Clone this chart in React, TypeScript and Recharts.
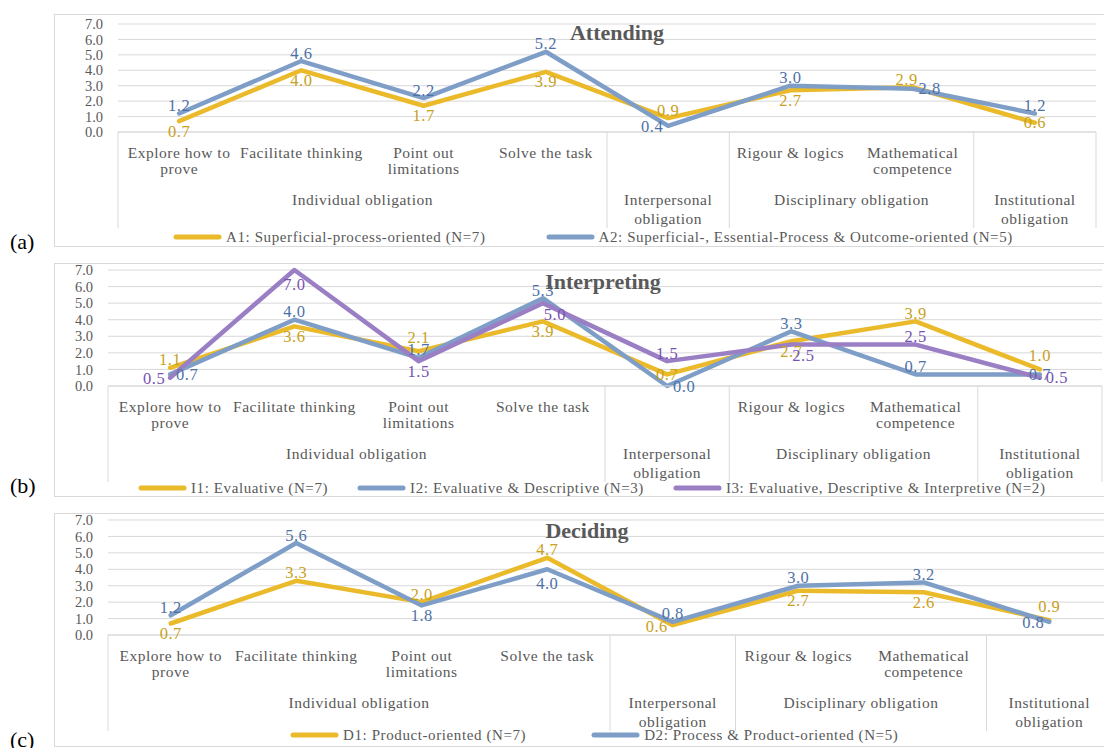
import { LineChart, Line, XAxis, YAxis, CartesianGrid, Legend, LabelList } from 'recharts'

const FONT = '"Liberation Serif", "Times New Roman", serif'
const TEXT = '#595959'
const GRID = '#d9d9d9'
const GOLD = '#ebba2a'
const GOLD_TXT = '#c9a020'
const BLUE = '#7f9ec7'
const BLUE_TXT = '#4d71a7'
const PURPLE = '#9b7fc5'
const PURPLE_TXT = '#7852b2'

// categories (first level) and obligation groups (second level)
const CATEGORIES = ['Explore how to\nprove', 'Facilitate thinking', 'Point out\nlimitations', 'Solve the task', '', 'Rigour & logics', 'Mathematical\ncompetence', '']
const GROUPS = ['Individual obligation', 'Interpersonal\nobligation', 'Disciplinary obligation', 'Institutional\nobligation']
const GROUP_SPANS = [4, 1, 2, 1]
const Y_TICKS = [0, 1, 2, 3, 4, 5, 6, 7]

// (a) Attending
const A1 = [0.7, 4.0, 1.7, 3.9, 0.9, 2.7, 2.9, 0.6]
const A2 = [1.2, 4.6, 2.2, 5.2, 0.4, 3.0, 2.8, 1.2]
// (b) Interpreting
const I1 = [1.1, 3.6, 2.1, 3.9, 0.7, 2.7, 3.9, 1.0]
const I2 = [0.7, 4.0, 1.7, 5.3, 0.0, 3.3, 0.7, 0.7]
const I3 = [0.5, 7.0, 1.5, 5.0, 1.5, 2.5, 2.5, 0.5]
// (c) Deciding
const D1 = [0.7, 3.3, 2.0, 4.7, 0.6, 2.7, 2.6, 0.9]
const D2 = [1.2, 5.6, 1.8, 4.0, 0.8, 3.0, 3.2, 0.8]

// where each data label sits relative to its point (as placed in the original)
const LABEL_OFFSETS: Record<string, [number, number]> = {
  a: [0, -8], A: [0, -14], b: [0, 10], B: [0, 14],
  l: [-16, 1], r: [17, 0], c: [0, 0], al: [-6, -8], br: [12, 11],
}
const POS_A1 = ['b', 'b', 'b', 'b', 'a', 'b', 'al', 'c']
const POS_A2 = ['a', 'a', 'a', 'a', 'l', 'a', 'r', 'a']
const POS_I1 = ['a', 'b', 'A', 'b', 'c', 'b', 'a', 'A']
const POS_I2 = ['r', 'a', 'a', 'a', 'r', 'a', 'a', 'c']
const POS_I3 = ['l', 'B', 'b', 'br', 'a', 'br', 'a', 'r']
const POS_D1 = ['b', 'a', 'a', 'a', 'l', 'b', 'b', 'A']
const POS_D2 = ['a', 'a', 'b', 'B', 'a', 'a', 'a', 'l']

const BOUNDS = GROUP_SPANS.reduce((acc, s) => [...acc, acc[acc.length - 1] + s], [0])
const GROUP_CENTERS = GROUP_SPANS.map((s, i) => BOUNDS[i] + s / 2)
const CAT_CENTERS = CATEGORIES.map((_, i) => i + 0.5)
const X_TICKS = Array.from(new Set([...BOUNDS, ...CAT_CENTERS, ...GROUP_CENTERS])).sort((a, b) => a - b)

const BOX_LEFT = 54
const Y_W = 50
const X_H = 100
const SEP_LEN = 96

const near = (a: number, b: number) => Math.abs(a - b) < 1e-6

function AxisTick(props: any) {
  const { x, y, payload } = props
  const v = payload.value
  const items: any[] = []
  if (BOUNDS.some(b => near(b, v))) {
    items.push(<line key="sep" x1={x} y1={y} x2={x} y2={y + SEP_LEN} stroke={GRID} strokeWidth={1} />)
  }
  const ci = CAT_CENTERS.findIndex(c => near(c, v))
  if (ci >= 0 && CATEGORIES[ci]) {
    CATEGORIES[ci].split('\n').forEach((t, j) => items.push(
      <text key={'c' + j} x={x} y={y + 20 + j * 16.5} textAnchor="middle" dominantBaseline="central"
        fontSize={15.5} letterSpacing={0.5} fontFamily={FONT} fill={TEXT}>{t}</text>
    ))
  }
  const gi = GROUP_CENTERS.findIndex(c => near(c, v))
  if (gi >= 0) {
    GROUPS[gi].split('\n').forEach((t, j) => items.push(
      <text key={'g' + j} x={x} y={y + 67 + j * 19} textAnchor="middle" dominantBaseline="central"
        fontSize={15.5} letterSpacing={0.5} fontFamily={FONT} fill={TEXT}>{t}</text>
    ))
  }
  return <g>{items}</g>
}

const makeLabel = (pos: string[], color: string) => (p: any) => {
  const { x, y, value, index } = p
  const [dx, dy] = LABEL_OFFSETS[pos[index] ?? 'a']
  return (
    <text x={x + dx} y={y + dy} textAnchor="middle" dominantBaseline="central"
      fontSize={16.5} letterSpacing={0.5} fontFamily={FONT} fill={color}>{Number(value).toFixed(1)}</text>
  )
}

function LegendContent({ payload, gap }: any) {
  return (
    <div style={{ display: 'flex', alignItems: 'center', gap, fontFamily: FONT, fontSize: 15, letterSpacing: 0.6, color: TEXT, whiteSpace: 'nowrap', lineHeight: '18px' }}>
      {(payload || []).map((p: any) => (
        <div key={p.value} style={{ display: 'flex', alignItems: 'center' }}>
          <svg width={50} height={8}>
            <line x1={3} y1={4} x2={46} y2={4} stroke={p.color} strokeWidth={5} strokeLinecap="round" />
          </svg>
          <span style={{ marginLeft: 3 }}>{p.value}</span>
        </div>
      ))}
    </div>
  )
}

const PANELS = [
  {
    tag: '(a)', tagY: 242, title: 'Attending', titleX: 617, titleY: 33,
    boxTop: 14, boxBottom: 247, chartW: 1104,
    plot: { left: 118, right: 1096, top: 24, bottom: 132 },
    legend: { left: 173, y: 237, gap: 60 },
    series: [
      { key: 'A1', name: 'A1: Superficial-process-oriented (N=7)', values: A1, color: GOLD, text: GOLD_TXT, pos: POS_A1 },
      { key: 'A2', name: 'A2: Superficial-, Essential-Process & Outcome-oriented (N=5)', values: A2, color: BLUE, text: BLUE_TXT, pos: POS_A2 },
    ],
  },
  {
    tag: '(b)', tagY: 486, title: 'Interpreting', titleX: 603, titleY: 282,
    boxTop: 263, boxBottom: 497, chartW: 1104,
    plot: { left: 108, right: 1102, top: 270, bottom: 386 },
    legend: { left: 138, y: 488, gap: 29 },
    series: [
      { key: 'I1', name: 'I1: Evaluative (N=7)', values: I1, color: GOLD, text: GOLD_TXT, pos: POS_I1 },
      { key: 'I2', name: 'I2: Evaluative & Descriptive (N=3)', values: I2, color: BLUE, text: BLUE_TXT, pos: POS_I2 },
      { key: 'I3', name: 'I3: Evaluative, Descriptive & Interpretive (N=2)', values: I3, color: PURPLE, text: PURPLE_TXT, pos: POS_I3 },
    ],
  },
  {
    tag: '(c)', tagY: 740, title: 'Deciding', titleX: 587, titleY: 531,
    boxTop: 513, boxBottom: 747, chartW: 1120,
    plot: { left: 108, right: 1112, top: 520, bottom: 635 },
    legend: { left: 290, y: 735, gap: 65 },
    series: [
      { key: 'D1', name: 'D1: Product-oriented (N=7)', values: D1, color: GOLD, text: GOLD_TXT, pos: POS_D1 },
      { key: 'D2', name: 'D2: Process & Product-oriented (N=5)', values: D2, color: BLUE, text: BLUE_TXT, pos: POS_D2 },
    ],
  },
]

function Panel({ cfg }: any) {
  const { plot } = cfg
  const chartH = cfg.boxBottom + 4
  const data = CATEGORIES.map((_, i) => {
    const row: any = { x: CAT_CENTERS[i] }
    cfg.series.forEach((s: any) => { row[s.key] = s.values[i] })
    return row
  })
  return (
    <>
      <div style={{
        position: 'absolute', left: BOX_LEFT, top: cfg.boxTop, width: 1104 - BOX_LEFT + 30,
        height: cfg.boxBottom - cfg.boxTop, border: `1px solid ${GRID}`, boxSizing: 'border-box', overflow: 'hidden',
      }}>
        <div style={{ position: 'absolute', left: -BOX_LEFT - 1, top: -cfg.boxTop - 1 }}>
          <LineChart width={cfg.chartW} height={chartH} data={data}
            margin={{ top: plot.top, left: plot.left - Y_W, right: cfg.chartW - plot.right, bottom: chartH - plot.bottom - X_H }}>
            <CartesianGrid vertical={false} stroke={GRID} strokeWidth={1} />
            <XAxis type="number" dataKey="x" domain={[0, 8]} ticks={X_TICKS} interval={0}
              tickSize={0} tickMargin={0} tickLine={false} axisLine={{ stroke: GRID }} height={X_H}
              tick={(p: any) => <AxisTick {...p} />} />
            <YAxis type="number" domain={[0, 7]} ticks={Y_TICKS} interval={0} width={Y_W}
              tickFormatter={(v: number) => v.toFixed(1)} axisLine={false} tickLine={false}
              tickSize={0} tickMargin={15} tick={{ fontSize: 14.5, fill: TEXT, fontFamily: FONT }} />
            <Legend layout="horizontal" verticalAlign="middle" align="center"
              wrapperStyle={{ top: cfg.legend.y - 9, left: cfg.legend.left, width: 'auto' }}
              content={(p: any) => <LegendContent {...p} gap={cfg.legend.gap} />} />
            {cfg.series.map((s: any) => (
              <Line key={s.key} type="linear" dataKey={s.key} name={s.name} stroke={s.color} strokeWidth={4.5}
                strokeLinecap="round" strokeLinejoin="round" dot={false} activeDot={false} isAnimationActive={false}>
                <LabelList dataKey={s.key} content={makeLabel(s.pos, s.text)} />
              </Line>
            ))}
          </LineChart>
        </div>
      </div>
      <div style={{
        position: 'absolute', left: cfg.titleX, top: cfg.titleY, transform: 'translate(-50%, -50%)',
        fontFamily: FONT, fontWeight: 'bold', fontSize: 22, color: TEXT, whiteSpace: 'nowrap',
      }}>{cfg.title}</div>
      <div style={{
        position: 'absolute', left: 10, top: cfg.tagY, transform: 'translateY(-50%)',
        fontFamily: FONT, fontSize: 22, color: '#000', lineHeight: '24px',
      }}>{cfg.tag}</div>
    </>
  )
}

export default function App() {
  return (
    <div style={{ position: 'absolute', left: 0, top: 0, width: 1104, height: 748, overflow: 'hidden', background: '#fff' }}>
      {PANELS.map(p => <Panel key={p.tag} cfg={p} />)}
    </div>
  )
}
